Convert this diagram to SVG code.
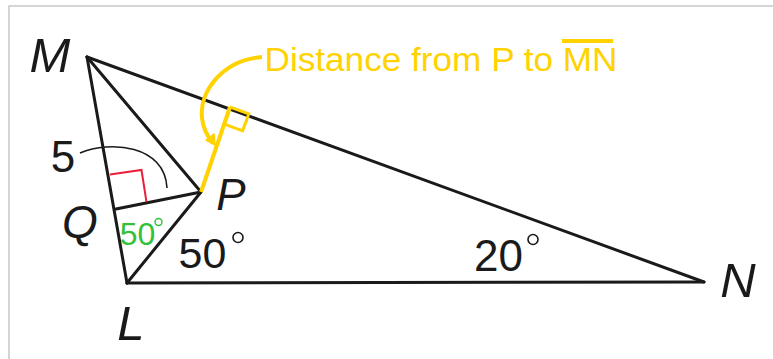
<svg xmlns="http://www.w3.org/2000/svg" width="773" height="359" viewBox="0 0 773 359">
<style>
.seg{stroke:#1a1a1a;stroke-width:3;stroke-linecap:round;fill:none}
.lbl{font-family:"Liberation Sans",Arial,sans-serif;font-style:italic;fill:#1a1a1a;text-anchor:middle}
.num{font-family:"Liberation Sans",Arial,sans-serif;fill:#1a1a1a;text-anchor:middle}
.deg{fill:none;stroke:#1a1a1a;stroke-width:1.6}
.yel{stroke:#FFD200;fill:none}
</style>
<rect x="0" y="0" width="773" height="359" fill="#fff"/>
<path d="M9,359 V6 H773" fill="none" stroke="#c8c8c8" stroke-width="1.5"/>
<g id="connectors">
  <line class="seg" x1="87" y1="57" x2="704" y2="282"/>
  <line class="seg" x1="87" y1="57" x2="127" y2="283"/>
  <line class="seg" x1="127" y1="283" x2="704" y2="282"/>
  <line class="seg" x1="87" y1="57" x2="201" y2="192"/>
  <line class="seg" x1="116" y1="209" x2="201" y2="192"/>
  <line class="seg" x1="127" y1="283" x2="201" y2="192"/>
  <path d="M110,174.5 L141.5,170 L146.5,202" fill="none" stroke="#E8203A" stroke-width="2"/>
  <path d="M80,153 C110,140 165,145 167,188" fill="none" stroke="#1a1a1a" stroke-width="1.6"/>
  <line class="yel" x1="201" y1="192" x2="230" y2="107" stroke-width="4"/>
  <path class="yel" d="M230,107 L248.8,113.9 L242.6,130.8 L223.8,123.9" stroke-width="3"/>
  <path class="yel" d="M262,57 C222,60 199,92 202,118 C203,128 207,136 213,143" stroke-width="4"/>
  <path d="M206,140 L215,145 L214,134 Z" fill="#FFD200" stroke="#FFD200" stroke-width="1.5" stroke-linejoin="round"/>
</g>
<g id="label-distance">
  <text x="264.5" y="71" font-family="Liberation Sans, Arial, sans-serif" font-size="34" fill="#FFD200" textLength="353" lengthAdjust="spacingAndGlyphs">Distance from P to MN</text>
  <line x1="562" y1="41" x2="613" y2="41" stroke="#FFD200" stroke-width="4"/>
</g>
<g id="node-M"><text class="lbl" x="50" y="72" font-size="49">M</text></g>
<g id="node-P"><text class="lbl" x="231" y="210" font-size="44">P</text></g>
<g id="node-Q"><text class="lbl" x="80" y="238" font-size="46">Q</text></g>
<g id="node-L"><text class="lbl" x="131" y="340" font-size="49">L</text></g>
<g id="node-N"><text class="lbl" x="738" y="297" font-size="49">N</text></g>
<g id="label-5"><text class="num" x="63" y="172" font-size="44">5</text></g>
<g id="label-50-black">
  <text class="num" x="202.5" y="268" font-size="43">50</text>
  <circle class="deg" cx="238" cy="237.5" r="5"/>
</g>
<g id="label-20">
  <text class="num" x="498.5" y="271" font-size="44">20</text>
  <circle class="deg" cx="533" cy="239.5" r="5"/>
</g>
<g id="label-50-green">
  <text x="137.5" y="245" font-family="Liberation Sans, Arial, sans-serif" font-size="32" fill="#33C13A" text-anchor="middle">50</text>
  <circle cx="158.5" cy="222" r="3.5" fill="none" stroke="#33C13A" stroke-width="1.4"/>
</g>
</svg>
